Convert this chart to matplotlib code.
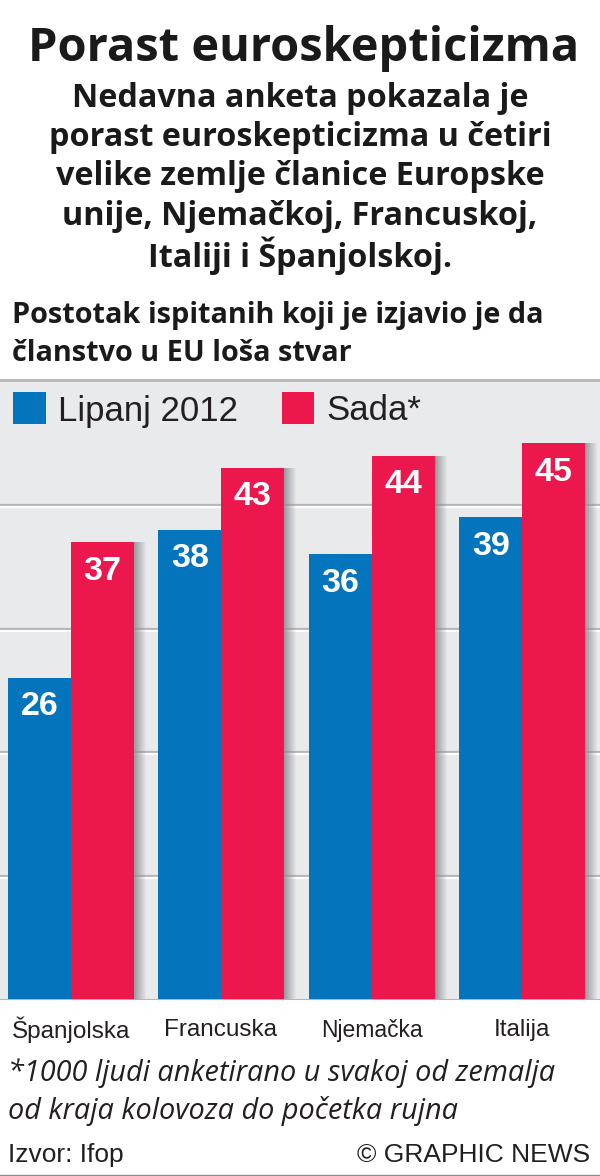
import numpy as np
import matplotlib.pyplot as plt
from matplotlib.patches import Rectangle

# --- DATA ---
countries = ["Španjolska", "Francuska", "Njemačka", "Italija"]
lipanj = [26, 38, 36, 39]
sada = [37, 43, 44, 45]
grid_vals = [10, 20, 30, 40]
series_names = ["Lipanj 2012", "Sada*"]

title = "Porast euroskepticizma"
intro = ["Nedavna anketa pokazala je",
         "porast euroskepticizma u četiri",
         "velike zemlje članice Europske",
         "unije, Njemačkoj, Francuskoj,",
         "Italiji i Španjolskoj."]
subtitle = ["Postotak ispitanih koji je izjavio je da",
            "članstvo u EU loša stvar"]
note = ["*1000 ljudi anketirano u svakoj od zemalja",
        "od kraja kolovoza do početka rujna"]

# --- STYLE ---
BLUE = "#0474bc"
RED = "#ec174c"
PANEL = "#e9eaec"
W, H = 600, 1176
HEAD = "Open Sans"
SANS = "Liberation Sans"

fig = plt.figure(figsize=(W / 100, H / 100), dpi=100, facecolor="white")


def ftext(x, y, s, **kw):
    # x, y in pixels from top left of the image
    return fig.text(x / W, 1 - y / H, s, va="center", **kw)


# --- Header ---
ftext(304, 48, title, ha="center", family=HEAD, weight="bold", size=33.8, color="#1a1a1a")
for i, line in enumerate(intro):
    ftext(300, 98.5 + i * 39.2, line, ha="center", family=HEAD, weight="bold", size=23.3, color="#1a1a1a")
for i, line in enumerate(subtitle):
    ftext(12, 316 + i * 38, line, ha="left", family=HEAD, weight="bold", size=20.8, color="#1a1a1a")

# --- Chart panel ---
base_px, top_px = 999, 381
ax = fig.add_axes([0, 1 - base_px / H, 1, (base_px - top_px) / H])
ax.set_facecolor(PANEL)
step = 150.4
ax.set_xlim(-71 / step, (W - 71) / step)
ax.set_ylim(0, (base_px - top_px) / 12.35)
for s in ax.spines.values():
    s.set_visible(False)
ax.set_yticks([])
ax.set_xticks([])

# gridlines: grey line with a white one just under it
for v in grid_vals:
    ax.axhline(v, color="#b4b5b8", lw=1.6, zorder=1)
    ax.axhline(v - 0.2, color="white", lw=1.6, zorder=1)

x = np.arange(len(countries))
w = 63 / step

# soft shadow right of the red bars
for i, val in enumerate(sada):
    n = 12
    for k in range(n):
        ax.bar(x[i] + w + k / step, val, 1 / step, align="edge",
               color="#8f8c94", alpha=0.85 * (1 - k / n), lw=0, zorder=2)

ax.bar(x - w, lipanj, w, align="edge", color=BLUE, lw=0, zorder=3)
ax.bar(x, sada, w, align="edge", color=RED, lw=0, zorder=3)

for i in range(len(x)):
    ax.text(x[i] - w / 2, lipanj[i] - 2.35, str(lipanj[i]), ha="center", va="center",
            color="white", family=SANS, weight="bold", size=24.5, zorder=4)
    ax.text(x[i] + w / 2, sada[i] - 2.35, str(sada[i]), ha="center", va="center",
            color="white", family=SANS, weight="bold", size=24.5, zorder=4)

# rules at top and bottom of the panel
fig.add_artist(plt.Line2D([0, 1], [1 - 380.5 / H] * 2, color="#b4b5b8", lw=2))
fig.add_artist(plt.Line2D([0, 1], [1 - 999 / H] * 2, color="#b4b5b8", lw=1.5, zorder=0))
fig.add_artist(plt.Line2D([0, 1], [1 - 1174.5 / H] * 2, color="#8c8c8c", lw=1))

# --- Legend ---
fig.add_artist(Rectangle((13 / W, 1 - 424 / H), 33 / W, 32 / H, transform=fig.transFigure,
                         color=BLUE, lw=0))
fig.add_artist(Rectangle((282 / W, 1 - 424 / H), 32 / W, 32 / H, transform=fig.transFigure,
                         color=RED, lw=0))
ftext(58, 411, series_names[0], ha="left", family=SANS, size=25, color="#231f20")
ftext(326, 411, series_names[1], ha="left", family=SANS, size=25, color="#231f20")

# --- Country labels ---
for c, cx in zip(countries, [71, 221, 372, 522]):
    ftext(cx, 1030, c, ha="center", family=SANS, size=17.5 if c != "Njemačka" else 16.5, color="#231f20")

# --- Footer ---
for i, line in enumerate(note):
    ftext(8, 1073.5 + i * 37, line, ha="left", family=HEAD, style="italic", size=20.8, color="#231f20")
ftext(8, 1155, "Izvor: Ifop", ha="left", family=SANS, size=19, color="#231f20")
ftext(590, 1155, "© GRAPHIC NEWS", ha="right", family=SANS, size=19, color="#231f20")

fig.savefig("out.png", dpi=100)
